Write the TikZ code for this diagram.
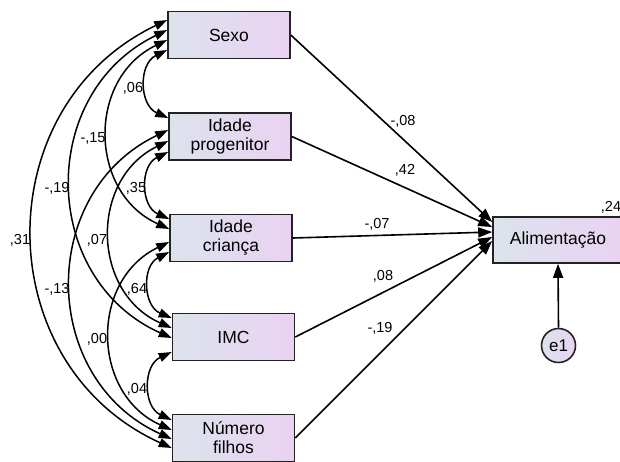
\documentclass[tikz,border=0pt]{standalone}
\usepackage{fontspec}
\setmainfont{Liberation Sans}
\usetikzlibrary{arrows.meta}
\definecolor{boxL}{HTML}{DCE3EC}
\definecolor{boxR}{HTML}{EAD2F2}
\definecolor{edgec}{HTML}{222222}
\begin{document}
\begin{tikzpicture}[x=1pt,y=-1pt,
  var/.style={draw=edgec,line width=1.6pt,left color=boxL,right color=boxR,
    minimum width=122pt,minimum height=47pt,align=center,inner sep=0pt,
    font=\fontsize{17.5}{19}\selectfont},
  err/.style={circle,draw=edgec,line width=1.6pt,left color=boxL,right color=boxR,
    minimum size=34pt,inner sep=0pt,font=\fontsize{17}{19}\selectfont},
  regr/.style={line width=1.6pt,-{Triangle[length=14pt,width=10pt]}},
  cov/.style={line width=1.5pt,{Triangle[length=13pt,width=9pt]}-{Triangle[length=13pt,width=9pt]},
    bend right=65,looseness=1.2},
  lbl/.style={font=\fontsize{14.5}{16}\selectfont,inner sep=0pt}
]
\useasboundingbox (0,0) rectangle (620,461);

% variables
\node[var] (sexo) at (229,35) {Sexo};
\node[var] (prog) at (230,136.5) {Idade\\progenitor};
\node[var] (cri) at (231,238) {Idade\\criança};
\node[var] (imc) at (233.5,337) {IMC};
\node[var] (num) at (233.5,438) {Número\\filhos};
\node[var,minimum width=130pt,minimum height=46pt] (alim) at (558,240) {Alimentação};
\node[err] (e1) at (558.5,345.5) {e1};

% regressions
\draw[regr] (sexo.east) -- ([yshift=18pt]alim.west);
\draw[regr] (prog.east) -- ([yshift=13pt]alim.west);
\draw[regr] (cri.east) -- ([yshift=8pt]alim.west);
\draw[regr] (imc.east) -- ([yshift=3pt]alim.west);
\draw[regr] (num.east) -- ([yshift=-1pt]alim.west);
\draw[regr] (e1.north) -- (alim.south);

% covariances
\draw[cov] ([yshift=-15pt]sexo.west) to ([yshift=18.5pt]prog.west);
\draw[cov] ([yshift=-5pt]sexo.west) to ([yshift=9pt]cri.west);
\draw[cov] ([yshift=5pt]sexo.west) to ([yshift=-1pt]imc.west);
\draw[cov] ([yshift=15pt]sexo.west) to ([yshift=-10pt]num.west);
\draw[cov] ([yshift=-15.5pt]prog.west) to ([yshift=19pt]cri.west);
\draw[cov] ([yshift=-4.5pt]prog.west) to ([yshift=9pt]imc.west);
\draw[cov] ([yshift=6.5pt]prog.west) to ([yshift=-1pt]num.west);
\draw[cov] ([yshift=-14pt]cri.west) to ([yshift=19pt]imc.west);
\draw[cov] ([yshift=-4pt]cri.west) to ([yshift=8pt]num.west);
\draw[cov] ([yshift=-15pt]imc.west) to ([yshift=18pt]num.west);

% covariance labels
\node[lbl] (c1) at (133,88) {,06};
\node[lbl] (c2) at (93,138) {-,15};
\node[lbl] (c3) at (57,188) {-,19};
\node[lbl] (c4) at (20,240) {,31};
\node[lbl] (c5) at (136,188) {,35};
\node[lbl] (c6) at (97,240) {,07};
\node[lbl] (c7) at (57,289) {-,13};
\node[lbl] (c8) at (137,289) {,64};
\node[lbl] (c9) at (97,339) {,00};
\node[lbl] (c10) at (137,389) {,04};

% regression labels
\node[lbl] (r1) at (403,121) {-,08};
\node[lbl] (r2) at (405,170) {,42};
\node[lbl] (r3) at (377,224) {-,07};
\node[lbl] (r4) at (383,276) {,08};
\node[lbl] (r5) at (380,328) {-,19};
\node[lbl] (r6) at (611,207) {,24};
\end{tikzpicture}
\end{document}
